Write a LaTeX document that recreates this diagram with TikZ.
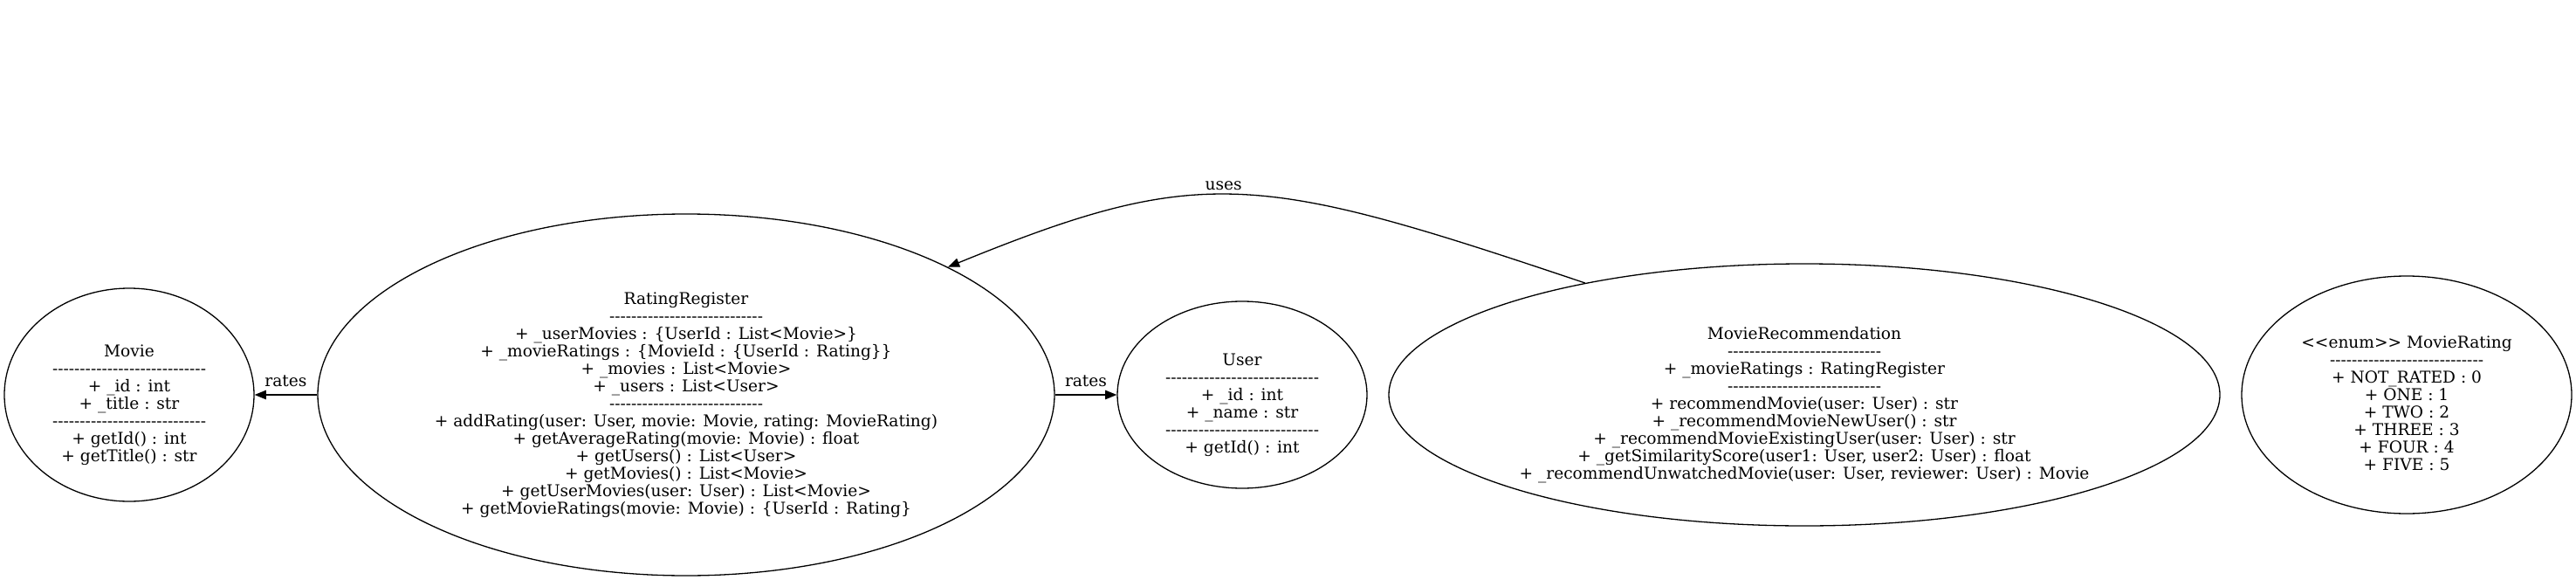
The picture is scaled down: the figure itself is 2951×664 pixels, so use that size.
\documentclass[tikz,border=0pt]{standalone}
\usepackage{fontspec}
\newfontfamily\dv{DejaVu Serif}[Ligatures=TeXOff]
\usetikzlibrary{shapes.geometric,arrows.meta}
\newcommand\dl{\makebox[89pt]{\cleaders\hbox{-}\hfill}}
\newcommand\tS{\rule{0pt}{8pt}}
\newcommand\bS{\rule[-3pt]{0pt}{3pt}}
\begin{document}
\begin{tikzpicture}[x=0.5pt,y=-0.5pt,
  cls/.style={draw, ellipse, line width=0.65pt, inner sep=0pt},
  txt/.style={align=center, font=\dv\fontsize{9.3}{10}\selectfont, inner sep=0pt, yshift=-5.5pt},
  edge/.style={-{Triangle[length=6.6pt,width=5.2pt]}, line width=0.65pt},
  elab/.style={font=\dv\fontsize{9.3}{10}\selectfont, inner xsep=0pt}]
\fill[white] (0,0) rectangle (2951,664);
\useasboundingbox (0,0) rectangle (2951,664);

\node[cls, minimum width=143pt, minimum height=122pt] (movie) at (148,452) {};
\node[txt] (movieT) at (movie) {\tS Movie\\\dl\\+ \_id : int\\+ \_title : str\\\dl\\+ getId() : int\\+ getTitle() : str\bS};

\node[cls, minimum width=422pt, minimum height=207pt] (rr) at (786,452) {};
\node[txt] (rrT) at (rr) {\tS RatingRegister\\\dl\\
+ \_userMovies : \{UserId : List<Movie>\}\\
+ \_movieRatings : \{MovieId : \{UserId : Rating\}\}\\
+ \_movies : List<Movie>\\
+ \_users : List<User>\\\dl\\
+ addRating(user: User, movie: Movie, rating: MovieRating)\\
+ getAverageRating(movie: Movie) : float\\
+ getUsers() : List<User>\\
+ getMovies() : List<Movie>\\
+ getUserMovies(user: User) : List<Movie>\\
+ getMovieRatings(movie: Movie) : \{UserId : Rating\}\bS};

\node[cls, minimum width=143pt, minimum height=107pt] (user) at (1423,452) {};
\node[txt] (userT) at (user) {\tS User\\\dl\\+ \_id : int\\+ \_name : str\\\dl\\+ getId() : int\bS};

\node[cls, minimum width=476pt, minimum height=150pt] (mr) at (2067,452) {};
\node[txt] (mrT) at (mr) {\tS MovieRecommendation\\\dl\\
+ \_movieRatings : RatingRegister\\\dl\\
+ recommendMovie(user: User) : str\\
+ \_recommendMovieNewUser() : str\\
+ \_recommendMovieExistingUser(user: User) : str\\
+ \_getSimilarityScore(user1: User, user2: User) : float\\
+ \_recommendUnwatchedMovie(user: User, reviewer: User) : Movie\bS};

\node[cls, minimum width=189pt, minimum height=136pt] (mrating) at (2757,452) {};
\node[txt] (mratingT) at (mrating) {\tS <{}<enum>{}> MovieRating\\\dl\\
+ NOT\_RATED : 0\\+ ONE : 1\\+ TWO : 2\\+ THREE : 3\\+ FOUR : 4\\+ FIVE : 5\bS};

\draw[edge] (rr) -- (movie) node[elab, midway, above, inner ysep=4.5pt] {rates};
\draw[edge] (rr) -- (user) node[elab, midway, above, inner ysep=4.5pt] {rates};
\draw[edge] (mr.153) .. controls (1441,198) and (1377,187) .. (rr.26)
  node[elab, pos=0.53, above, inner ysep=2pt] {uses};
\end{tikzpicture}
\end{document}
